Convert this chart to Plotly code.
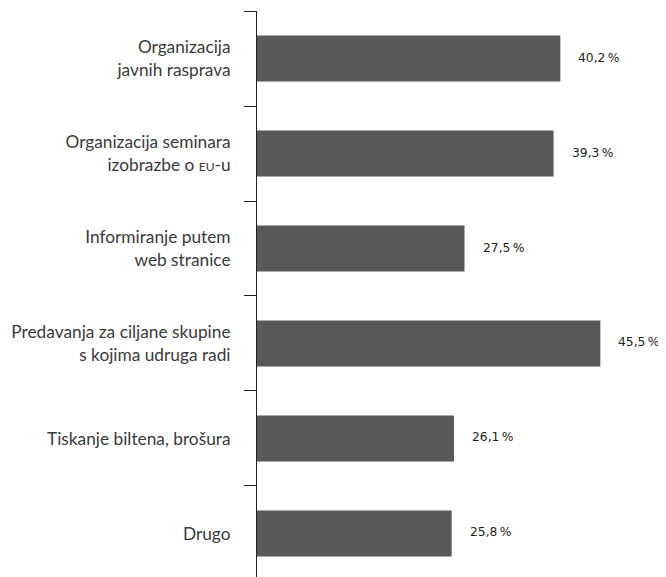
import plotly.graph_objects as go

categories = [
    "Organizacija<br>javnih rasprava",
    "Organizacija seminara<br>izobrazbe o <span style='font-size:12px'>EU</span>-u",
    "Informiranje putem<br>web stranice",
    "Predavanja za ciljane skupine<br>s kojima udruga radi",
    "Tiskanje biltena, brošura",
    "Drugo",
]
values = [40.2, 39.3, 27.5, 45.5, 26.1, 25.8]
value_labels = ["40,2\u2009%", "39,3\u2009%", "27,5\u2009%", "45,5\u2009%", "26,1\u2009%", "25,8\u2009%"]

fig = go.Figure()
fig.add_trace(go.Bar(
    x=values, y=categories, orientation="h",
    marker=dict(color="#58595b", line=dict(width=0)),
    hoverinfo="skip",
))

for v, c, t in zip(values, categories, value_labels):
    fig.add_annotation(x=v, y=c, text=t, showarrow=False, xanchor="left",
                       xshift=16, yshift=1,
                       font=dict(family="DejaVu Sans", size=12.3, color="#231f20"))

fig.update_layout(
    width=658, height=569,
    margin=dict(l=249, r=0, t=3, b=0),
    paper_bgcolor="white", plot_bgcolor="white",
    bargap=0.515,
    showlegend=False,
    font=dict(family="Lato", size=15, color="#231f20"),
)
fig.update_xaxes(range=[0, 54.2], visible=False, showgrid=False, zeroline=False)
fig.update_yaxes(
    type="category", range=[5.458, -0.5],
    showline=True, linecolor="#231f20", linewidth=1,
    ticks="outside", tickson="boundaries", ticklen=12, tickcolor="#231f20", tickwidth=1,
    ticklabelstandoff=22,
    showgrid=False, zeroline=False,
    tickfont=dict(family="Lato", size=17.3, color="#3a3a3a"),
)

fig.write_html("out.html")
